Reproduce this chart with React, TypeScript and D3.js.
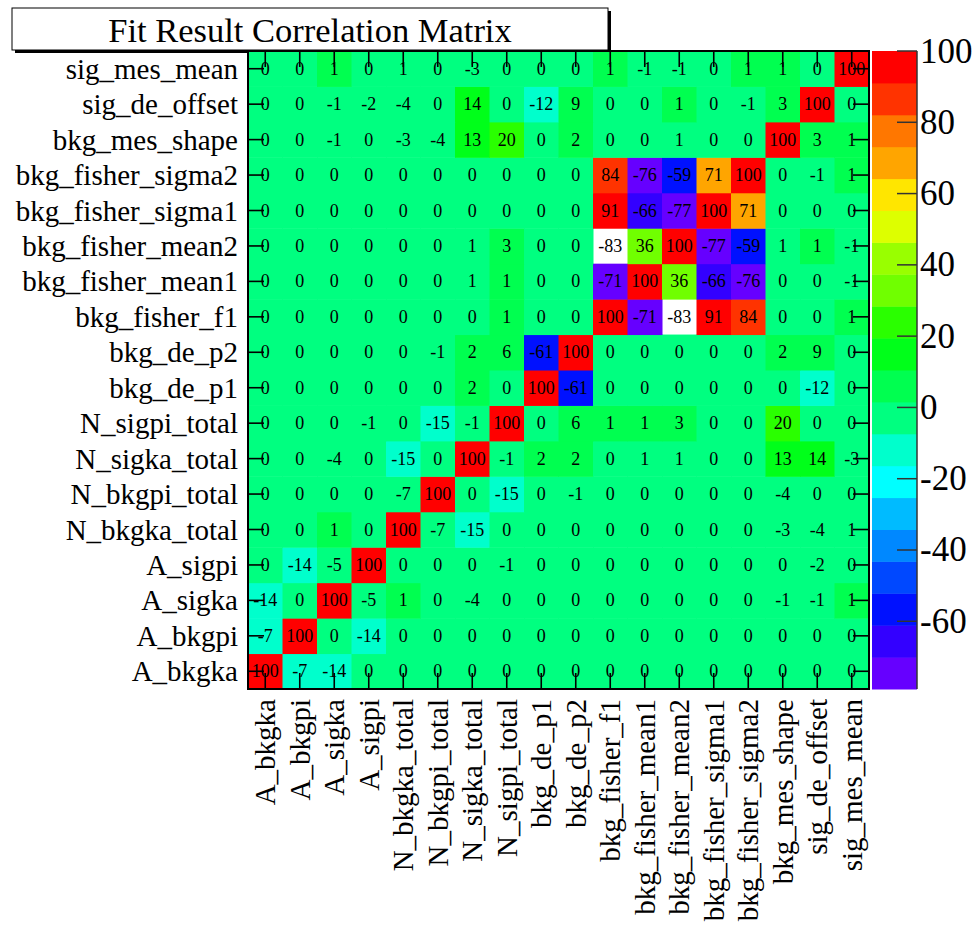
import * as d3 from "d3";

// fit parameters, bottom-to-top on the y axis, left-to-right on the x axis
const params = [
  "A_bkgka",
  "A_bkgpi",
  "A_sigka",
  "A_sigpi",
  "N_bkgka_total",
  "N_bkgpi_total",
  "N_sigka_total",
  "N_sigpi_total",
  "bkg_de_p1",
  "bkg_de_p2",
  "bkg_fisher_f1",
  "bkg_fisher_mean1",
  "bkg_fisher_mean2",
  "bkg_fisher_sigma1",
  "bkg_fisher_sigma2",
  "bkg_mes_shape",
  "sig_de_offset",
  "sig_mes_mean",
];

// correlation (%) rows, same order as params
const corr = [
  [100, -7.6, -14.2, 0, 0, 0, 0, 0, 0, 0, 0, 0, 0, 0, 0, 0, 0, 0],
  [-7.6, 100, 0, -14.3, 0, 0, 0, 0, 0, 0, 0, 0, 0, 0, 0, 0, 0, 0],
  [-14.2, 0, 100, -5.2, 1.7, 0, -4.1, 0, 0, 0, 0, 0, 0, 0, 0, -1.1, -1.2, 1.7],
  [0, -14.3, -5.2, 100, 0, 0, 0, -1.1, 0, 0, 0, 0, 0, 0, 0, 0, -2.1, 0],
  [0, 0, 1.7, 0, 100, -7.2, -15.1, 0, 0, 0, 0, 0, 0, 0, 0, -3.2, -4.1, 1.2],
  [0, 0, 0, 0, -7.2, 100, 0, -15.2, 0, -1.1, 0, 0, 0, 0, 0, -4.2, 0, 0],
  [0, 0, -4.1, 0, -15.1, 0, 100, -1.3, 2.3, 2.4, 0, 1.2, 1.1, 0, 0, 13.4, 14.2, -3.1],
  [0, 0, 0, -1.1, 0, -15.2, -1.3, 100, 0, 6.4, 1.7, 1.8, 3.2, 0, 0, 20.3, 0, 0],
  [0, 0, 0, 0, 0, 0, 2.3, 0, 100, -61.0, 0, 0, 0, 0, 0, 0, -12.3, 0],
  [0, 0, 0, 0, 0, -1.1, 2.4, 6.4, -61.0, 100, 0, 0, 0, 0, 0, 2.2, 9.3, 0],
  [0, 0, 0, 0, 0, 0, 0, 1.7, 0, 0, 100, -71.2, -83.1, 91.4, 84.1, 0, 0, 1.7],
  [0, 0, 0, 0, 0, 0, 1.2, 1.8, 0, 0, -71.2, 100, 36.2, -66.2, -76.3, 0, 0, -1.1],
  [0, 0, 0, 0, 0, 0, 1.1, 3.2, 0, 0, -83.1, 36.2, 100, -77.4, -59.2, 1.2, 1.7, -1.2],
  [0, 0, 0, 0, 0, 0, 0, 0, 0, 0, 91.4, -66.2, -77.4, 100, 71.3, 0, 0, 0],
  [0, 0, 0, 0, 0, 0, 0, 0, 0, 0, 84.1, -76.3, -59.2, 71.3, 100, 0, -1.1, 1.7],
  [0, 0, -1.1, 0, -3.2, -4.2, 13.4, 20.3, 0, 2.2, 0, 0, 1.2, 0, 0, 100, 3.3, 1.7],
  [0, 0, -1.2, -2.1, -4.1, 0, 14.2, 0, -12.3, 9.3, 0, 0, 1.7, 0, -1.1, 3.3, 100, 0],
  [0, 0, 1.7, 0, 1.2, 0, -3.1, 0, 0, 0, 1.7, -1.1, -1.2, 0, 1.7, 1.7, 0, 100],
];

const zMin = -79;
const zMax = 100;
const zTicks = [100, 80, 60, 40, 20, 0, -20, -40, -60];
const title = "Fit Result Correlation Matrix";

// 20 colour levels, low to high
const palette = [
  "#6600ff", "#3300ff", "#0011ff", "#0048ff", "#0088ff",
  "#00bbff", "#00ffff", "#00ffcc", "#00ff80", "#00ff50",
  "#00ff1a", "#2aff00", "#70ff00", "#99ff00", "#ddff00",
  "#ffe600", "#ffa500", "#ff7700", "#ff3300", "#ff0000",
];

const FONT = "'Liberation Serif', 'DejaVu Serif', serif";

export default function App() {
  const width = 976;
  const height = 926;
  const plot = { left: 248, right: 869, top: 51, bottom: 689 };
  const bar = { left: 872, right: 917 };
  const tickLen = 16;

  const x = d3.scaleBand<string>().domain(params).range([plot.left, plot.right]);
  const y = d3
    .scaleBand<string>()
    .domain([...params].reverse())
    .range([plot.top, plot.bottom]);
  const color = d3.scaleQuantize<string>().domain([zMin, zMax]).range(palette);
  const z = d3.scaleLinear().domain([zMin, zMax]).range([plot.bottom, plot.top]);
  const bw = x.bandwidth();
  const bh = y.bandwidth();
  const levels = d3.range(palette.length).map(
    (i) => [zMin + (i * (zMax - zMin)) / palette.length, zMin + ((i + 1) * (zMax - zMin)) / palette.length],
  );

  return (
    <svg
      width={width}
      height={height}
      style={{ position: "absolute", left: 0, top: 0, background: "#fff" }}
      fontFamily={FONT}
    >
      <rect width={width} height={height} fill="#fff" />

      {/* title pave */}
      <rect x={15} y={11} width={596} height={42} fill="#000" />
      <rect x={12} y={8} width={596} height={42} fill="#fff" stroke="#000" strokeWidth={1} />
      <text x={310} y={30} fontSize={34.5} textAnchor="middle" dominantBaseline="central">
        {title}
      </text>

      {/* cells */}
      {corr.map((row, i) =>
        row.map((v, j) =>
          v < zMin ? null : (
            <rect
              key={`c${i}-${j}`}
              x={x(params[j])!}
              y={y(params[i])!}
              width={bw + 0.5}
              height={bh + 0.5}
              fill={color(v)}
            />
          ),
        ),
      )}
      {corr.map((row, i) =>
        row.map((v, j) => (
          <text
            key={`t${i}-${j}`}
            x={x(params[j])! + bw / 2}
            y={y(params[i])! + bh / 2}
            fontSize={18}
            textAnchor="middle"
            dominantBaseline="central"
          >
            {String(Math.trunc(v) || 0)}
          </text>
        )),
      )}

      {/* ticks on all four sides */}
      {params.map((p) => (
        <g key={`tk${p}`} stroke="#000" strokeWidth={1.6}>
          <line x1={plot.left} x2={plot.left + tickLen} y1={y(p)! + bh / 2} y2={y(p)! + bh / 2} />
          <line x1={plot.right} x2={plot.right - tickLen} y1={y(p)! + bh / 2} y2={y(p)! + bh / 2} />
          <line x1={x(p)! + bw / 2} x2={x(p)! + bw / 2} y1={plot.bottom} y2={plot.bottom - tickLen} />
          <line x1={x(p)! + bw / 2} x2={x(p)! + bw / 2} y1={plot.top} y2={plot.top + tickLen} />
        </g>
      ))}

      <rect
        x={plot.left}
        y={plot.top}
        width={plot.right - plot.left}
        height={plot.bottom - plot.top}
        fill="none"
        stroke="#000"
        strokeWidth={2}
      />

      {/* y labels */}
      {params.map((p) => (
        <text
          key={`yl${p}`}
          x={238}
          y={y(p)! + bh / 2}
          fontSize={29}
          textAnchor="end"
          dominantBaseline="central"
        >
          {p}
        </text>
      ))}

      {/* x labels */}
      {params.map((p) => (
        <text
          key={`xl${p}`}
          transform={`translate(${x(p)! + bw / 2},${plot.bottom + 10}) rotate(-90)`}
          fontSize={29}
          textAnchor="end"
          dominantBaseline="central"
        >
          {p}
        </text>
      ))}

      {/* colour bar */}
      {levels.map(([lo, hi], i) => (
        <rect
          key={`lv${i}`}
          x={bar.left}
          y={z(hi)}
          width={bar.right - bar.left}
          height={z(lo) - z(hi) + 0.5}
          fill={palette[i]}
        />
      ))}
      <line x1={bar.right} x2={bar.right} y1={plot.top} y2={plot.bottom} stroke="#333" strokeWidth={1.5} />
      {zTicks.map((t) => (
        <g key={`zt${t}`}>
          <line x1={bar.right - 20} x2={bar.right} y1={z(t)} y2={z(t)} stroke="#333" strokeWidth={1.5} />
          <text x={bar.right + 3} y={z(t)} fontSize={35} dominantBaseline="central">
            {t}
          </text>
        </g>
      ))}
    </svg>
  );
}
